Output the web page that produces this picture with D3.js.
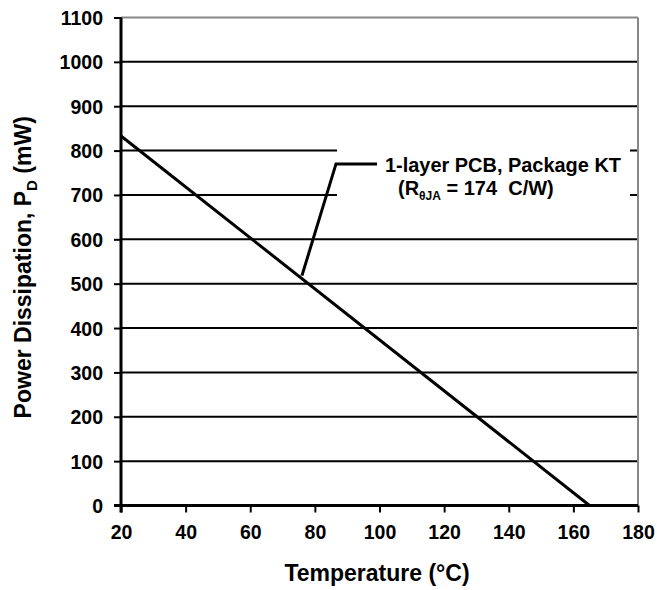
<!DOCTYPE html>
<meta charset="utf-8">
<style>
  body { margin: 0; background: #fff; }
  svg text { font-family: "Liberation Sans", Arial, sans-serif; font-weight: bold; fill: #000; white-space: pre; }
</style>
<body>
<script src="https://d3js.org/d3.v7.min.js"></script>
<script>
  // derating curve, 1-layer PCB, package KT
  var tempC = [20, 165]
  var powerMW = [833, 0]
  var xTicks = [20, 40, 60, 80, 100, 120, 140, 160, 180]
  var yTicks = [0, 100, 200, 300, 400, 500, 600, 700, 800, 900, 1000, 1100]
  var labelLines = ["1-layer PCB, Package KT"]
  var pointerAt = 76  // °C where the leader touches the line

  var width = 657, height = 590

  var x = d3.scaleLinear().domain([20, 180]).range([121, 638])
  var y = d3.scaleLinear().domain([0, 1100]).range([505.5, 17.5])

  var svg = d3.select('body').append('svg')
    .attr('width', width)
    .attr('height', height)

  // horizontal grid lines
  svg.append('g')
    .selectAll('line')
    .data(yTicks.filter(function (d) { return d > 0 && d < 1100 }))
    .enter().append('line')
    .attr('x1', x(20)).attr('x2', x(180))
    .attr('y1', function (d) { return y(d) }).attr('y2', function (d) { return y(d) })
    .attr('stroke', '#000').attr('stroke-width', 2)

  // frame top and right (grey)
  svg.append('line')
    .attr('x1', x(20)).attr('x2', x(180)).attr('y1', y(1100)).attr('y2', y(1100))
    .attr('stroke', '#888').attr('stroke-width', 2)
  svg.append('line')
    .attr('x1', x(180)).attr('x2', x(180)).attr('y1', y(1100)).attr('y2', y(0))
    .attr('stroke', '#888').attr('stroke-width', 2)

  // label background blanks the grid behind it
  svg.append('rect')
    .attr('x', 337).attr('y', y(830))
    .attr('width', 293).attr('height', y(660) - y(830))
    .attr('fill', '#fff')

  // y axis
  var yAxis = d3.axisLeft(y).tickValues(yTicks).tickSize(7).tickPadding(11).tickFormat(d3.format('d'))
  svg.append('g')
    .attr('transform', 'translate(' + x(20) + ',0)')
    .call(yAxis)
    .call(function (g) {
      g.select('.domain').remove()
      g.selectAll('line').attr('stroke-width', 2)
      g.selectAll('text').style('font-size', '19.5px').attr('dy', '0.36em')
    })
  svg.append('line')
    .attr('x1', x(20)).attr('x2', x(20)).attr('y1', y(1100)).attr('y2', y(0) + 7)
    .attr('stroke', '#000').attr('stroke-width', 3)

  // x axis
  var xAxis = d3.axisBottom(x).tickValues(xTicks).tickSize(7).tickPadding(13)
  svg.append('g')
    .attr('transform', 'translate(0,' + y(0) + ')')
    .call(xAxis)
    .call(function (g) {
      g.select('.domain').remove()
      g.selectAll('line').attr('stroke-width', 2)
      g.selectAll('text').style('font-size', '19.5px')
    })
  svg.append('line')
    .attr('x1', x(20) - 7).attr('x2', x(180)).attr('y1', y(0)).attr('y2', y(0))
    .attr('stroke', '#000').attr('stroke-width', 3)

  // derating line
  var line = d3.line()
    .x(function (d) { return x(d[0]) })
    .y(function (d) { return y(d[1]) })
  svg.append('path')
    .datum(d3.zip(tempC, powerMW))
    .attr('d', line)
    .attr('fill', 'none')
    .attr('stroke', '#000')
    .attr('stroke-width', 3)

  // leader line to the label
  var slope = (powerMW[1] - powerMW[0]) / (tempC[1] - tempC[0])
  var py = powerMW[0] + slope * (pointerAt - tempC[0])
  svg.append('path')
    .attr('d', 'M' + x(pointerAt) + ',' + (y(py) - 3) + 'L336,' + y(770) + 'L377,' + y(770))
    .attr('fill', 'none')
    .attr('stroke', '#000')
    .attr('stroke-width', 3)

  svg.append('text')
    .attr('x', 385).attr('y', 172)
    .attr('textLength', 236).attr('lengthAdjust', 'spacingAndGlyphs')
    .style('font-size', '20px')
    .text(labelLines[0])

  var t2 = svg.append('text')
    .attr('x', 398).attr('y', 195)
    .style('font-size', '20px')
  t2.append('tspan').text('(R')
  t2.append('tspan').attr('dy', 5).style('font-size', '12px').text('\u03B8JA')
  t2.append('tspan').attr('dy', -5).text(' = 174  C/W)')

  // axis titles
  svg.append('text')
    .attr('x', 377).attr('y', 581)
    .attr('text-anchor', 'middle')
    .style('font-size', '23px')
    .text('Temperature (°C)')

  var yt = svg.append('text')
    .attr('transform', 'translate(31,' + y(537) + ') rotate(-90)')
    .attr('text-anchor', 'middle')
    .style('font-size', '23px')
  yt.append('tspan').text('Power Dissipation, P')
  yt.append('tspan').attr('dy', 6).style('font-size', '15px').text('D')
  yt.append('tspan').attr('dy', -6).text(' (mW)')
</script>
</body>
